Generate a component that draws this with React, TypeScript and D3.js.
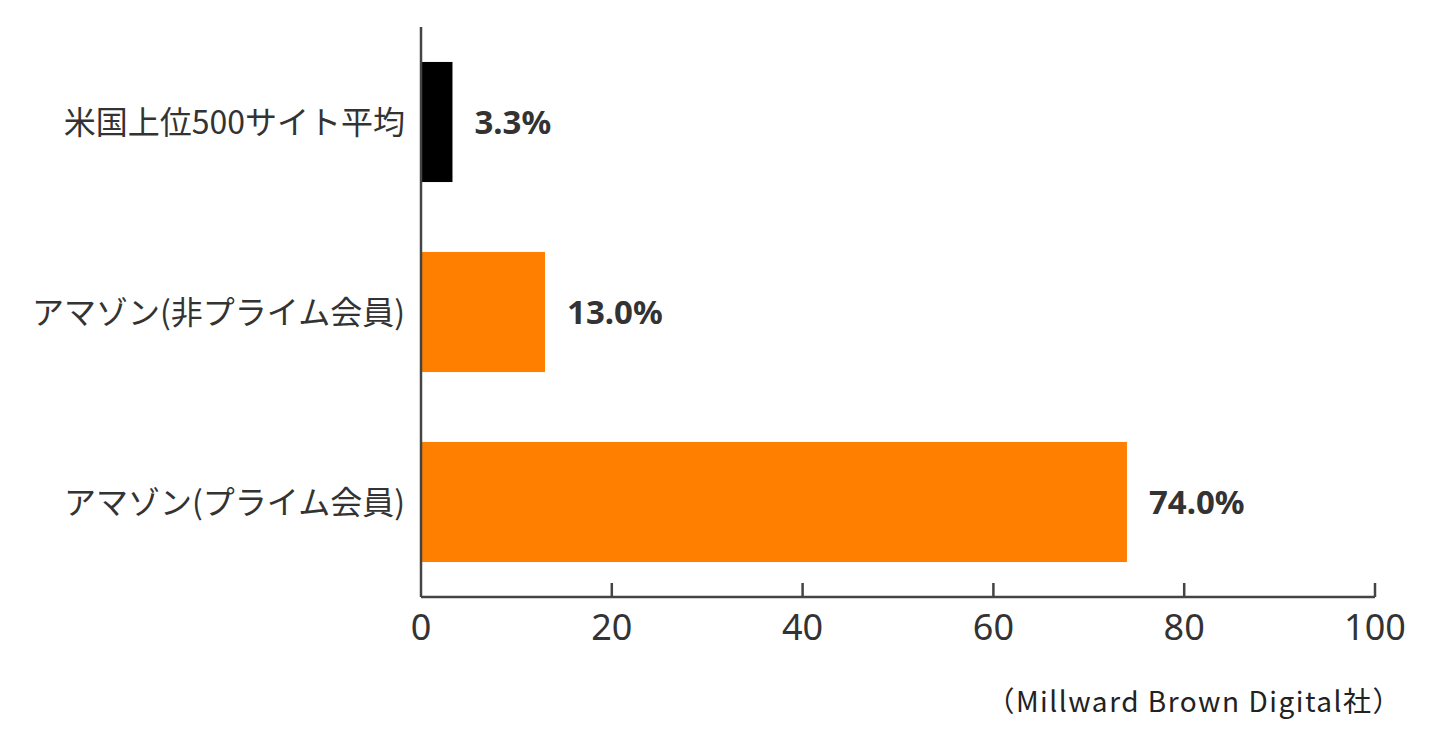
import React, { useEffect, useRef } from 'react';
import * as d3 from 'd3';

const categories = ['米国上位500サイト平均', 'アマゾン(非プライム会員)', 'アマゾン(プライム会員)'];
const values = [3.3, 13.0, 74.0];
const barColors = ['#000000', '#FF8000', '#FF8000'];
const ticks = [0, 20, 40, 60, 80, 100];
const source = '（Millward Brown Digital社）';

const W = 1440;
const H = 737;

export default function App() {
  const svgRef = useRef<SVGSVGElement>(null);

  useEffect(() => {
    if (!svgRef.current) return;
    const svg = d3.select(svgRef.current);
    svg.selectAll('*').remove();

    const margin = { top: 27, right: 65, bottom: 140, left: 421 };
    const axisY = H - margin.bottom;
    const font = '"Noto Sans CJK JP", "Noto Sans", sans-serif';
    const textColor = '#333333';

    const x = d3.scaleLinear().domain([0, 100]).range([margin.left, W - margin.right]);
    const y = d3.scaleBand<string>()
      .domain(categories)
      .range([margin.top, axisY])
      .paddingInner(0.368)
      .paddingOuter(0.184);

    // bars
    svg.append('g')
      .selectAll('rect')
      .data(values)
      .join('rect')
      .attr('x', x(0))
      .attr('y', (_, i) => y(categories[i])!)
      .attr('width', d => x(d) - x(0))
      .attr('height', y.bandwidth())
      .attr('fill', (_, i) => barColors[i]);

    // value labels
    svg.append('g')
      .selectAll('text')
      .data(values)
      .join('text')
      .attr('x', d => x(d) + 22)
      .attr('y', (_, i) => y(categories[i])! + y.bandwidth() / 2)
      .attr('dy', '0.35em')
      .attr('font-family', '"Noto Sans", sans-serif')
      .attr('font-size', 33)
      .attr('font-weight', 'bold')
      .attr('fill', textColor)
      .text(d => d.toFixed(1) + '%');

    // category labels
    svg.append('g')
      .selectAll('text')
      .data(categories)
      .join('text')
      .attr('x', margin.left - 16)
      .attr('y', d => y(d)! + y.bandwidth() / 2)
      .attr('dy', '0.38em')
      .attr('text-anchor', 'end')
      .attr('font-family', font)
      .attr('font-size', 32)
      .attr('fill', textColor)
      .text(d => d);

    // axes
    const axisColor = '#444444';
    svg.append('line')
      .attr('x1', x(0)).attr('x2', x(0))
      .attr('y1', margin.top).attr('y2', axisY)
      .attr('stroke', axisColor).attr('stroke-width', 2.5);
    svg.append('line')
      .attr('x1', x(0)).attr('x2', x(100))
      .attr('y1', axisY).attr('y2', axisY)
      .attr('stroke', axisColor).attr('stroke-width', 2.5);

    svg.append('g')
      .selectAll('line')
      .data(ticks.slice(1))
      .join('line')
      .attr('x1', d => x(d)).attr('x2', d => x(d))
      .attr('y1', axisY - 14).attr('y2', axisY)
      .attr('stroke', axisColor).attr('stroke-width', 2.5);

    svg.append('g')
      .selectAll('text')
      .data(ticks)
      .join('text')
      .attr('x', d => x(d))
      .attr('y', axisY + 30)
      .attr('dy', '0.35em')
      .attr('text-anchor', 'middle')
      .attr('font-family', '"Noto Sans", sans-serif')
      .attr('font-size', 36)
      .attr('fill', textColor)
      .text(d => String(d));

    svg.append('text')
      .attr('x', W - 38)
      .attr('y', 702)
      .attr('dy', '0.35em')
      .attr('text-anchor', 'end')
      .attr('font-family', font)
      .attr('font-size', 28)
      .attr('letter-spacing', 1.5)
      .attr('fill', '#222222')
      .text(source);
  }, []);

  return (
    <div style={{ position: 'fixed', top: 0, left: 0, width: W, height: H, background: '#fff' }}>
      <svg ref={svgRef} width={W} height={H} style={{ display: 'block' }} />
    </div>
  );
}
